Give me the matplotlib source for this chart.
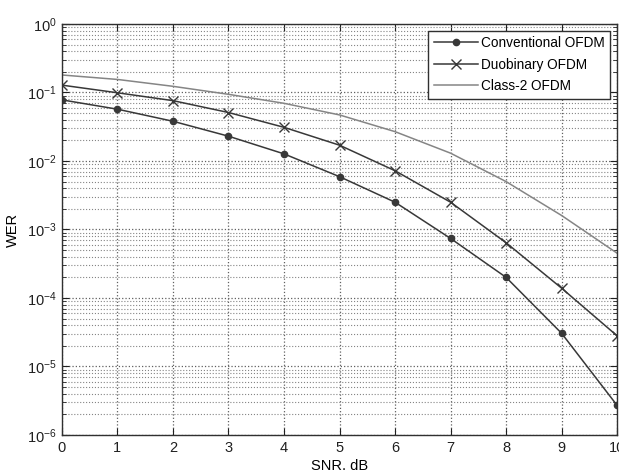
import numpy as np
import matplotlib
matplotlib.use("Agg")
import matplotlib.pyplot as plt
from matplotlib.ticker import LogLocator, NullFormatter

plt.rcParams['font.family'] = ['Liberation Sans', 'DejaVu Sans']
plt.rcParams['mathtext.default'] = 'regular'

snr = [0, 1, 2, 3, 4, 5, 6, 7, 8, 9, 10]
conventional = [0.078, 0.057, 0.038, 0.023, 0.0127, 0.0059, 0.0025, 7.4e-4, 2.0e-4, 3.05e-5, 2.7e-6]
duobinary = [0.128, 0.099, 0.076, 0.051, 0.031, 0.017, 0.0072, 0.0025, 6.4e-4, 1.39e-4, 2.8e-5]
class2 = [0.18, 0.155, 0.123, 0.094, 0.0695, 0.047, 0.0268, 0.013, 0.005, 0.0016, 4.5e-4]
labels = ['Conventional OFDM', 'Duobinary OFDM', 'Class-2 OFDM']

fig = plt.figure(figsize=(6.19, 4.70), dpi=100)
ax = fig.add_axes([0.1, 0.0745, 0.897, 0.8745])

ax.semilogy(snr, conventional, '-', color='#383838', lw=1.1, marker='o', ms=4.5, label=labels[0])
ax.semilogy(snr, duobinary, '-', color='#383838', lw=1.1, marker='x', ms=7, mew=1, label=labels[1])
ax.semilogy(snr, class2, '-', color='#858585', lw=1.1, label=labels[2])

ax.set_xlim(0, 10)
ax.set_ylim(1e-6, 1)
ax.set_xticks(range(0, 11))
ax.yaxis.set_major_locator(LogLocator(base=10, numticks=10))
ax.yaxis.set_minor_locator(LogLocator(base=10, subs=np.arange(2, 10), numticks=100))
ax.yaxis.set_minor_formatter(NullFormatter())

ax.grid(True, which='major', linestyle=':', color='#606060', lw=0.9)
ax.grid(True, which='minor', axis='y', linestyle=':', color='#858585', lw=0.8)

ax.tick_params(which='both', direction='in', top=True, right=True, labelsize=10.5, colors='#202020')
ax.tick_params(which='major', length=5, pad=4)
ax.tick_params(which='minor', length=3)
for s in ax.spines.values():
    s.set_color('#303030')
    s.set_linewidth(1)

ax.set_xlabel('SNR, dB', fontsize=10.5, labelpad=3)
ax.set_ylabel('WER', fontsize=10.5, labelpad=5)

leg = ax.legend(loc='upper right', fontsize=9.8, fancybox=False, framealpha=1,
                edgecolor='#303030', borderaxespad=0.5, handlelength=3.3,
                handletextpad=0.2, labelspacing=0.55, borderpad=0.4)
leg.get_frame().set_linewidth(1)

fig.savefig('out.png', dpi=100)
